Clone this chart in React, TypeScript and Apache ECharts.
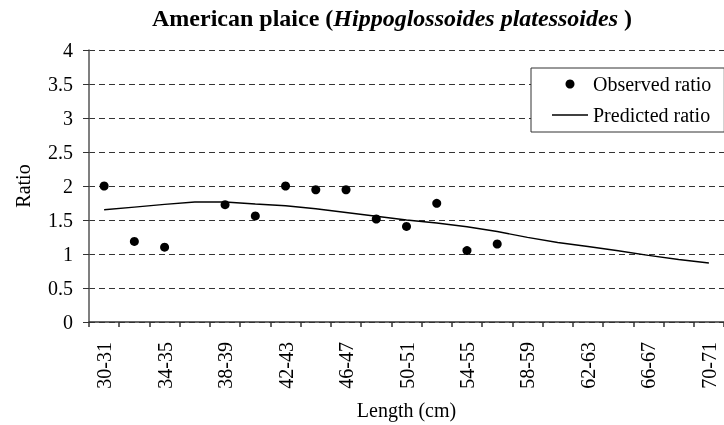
import React, { useEffect, useRef } from 'react';
import * as echarts from 'echarts';

const categories = [
  '30-31', '32-33', '34-35', '36-37', '38-39', '40-41', '42-43', '44-45', '46-47', '48-49',
  '50-51', '52-53', '54-55', '56-57', '58-59', '60-61', '62-63', '64-65', '66-67', '68-69', '70-71',
];
const observedRatio = [
  2.0, 1.185, 1.1, null, 1.725, 1.56, 2.0, 1.945, 1.945, 1.515,
  1.405, 1.745, 1.05, 1.147, null, null, null, null, null, null, null,
];
const predictedRatio = [
  1.65, 1.69, 1.73, 1.765, 1.765, 1.735, 1.71, 1.665, 1.61, 1.555,
  1.5, 1.455, 1.4, 1.33, 1.245, 1.17, 1.11, 1.047, 0.98, 0.92, 0.868,
];

const FONT = "'Liberation Serif', 'Times New Roman', serif";

export default function App() {
  const ref = useRef<HTMLDivElement>(null);
  useEffect(() => {
    if (!ref.current) return;
    const chart = echarts.init(ref.current, null, { renderer: 'svg' });
    chart.setOption({
      animation: false,
      textStyle: { fontFamily: FONT },
      graphic: [
        {
          type: 'text',
          x: 392,
          y: 6,
          style: {
            text: '{a|American plaice (}{b|Hippoglossoides platessoides}{a| )}',
            align: 'center',
            verticalAlign: 'top',
            fill: '#000',
            rich: {
              a: { fontFamily: FONT, fontSize: 24, fontWeight: 'bold', fill: '#000', color: '#000' },
              b: { fontFamily: FONT, fontSize: 24, fontWeight: 'bold', fontStyle: 'italic', fill: '#000', color: '#000' },
            },
          },
        },
      ],
      legend: {
        orient: 'vertical',
        left: 531,
        top: 68,
        padding: [6, 13, 7, 21],
        itemGap: 11,
        itemWidth: 36,
        itemHeight: 9,
        borderColor: '#333',
        borderWidth: 1,
        backgroundColor: '#fff',
        textStyle: { fontFamily: FONT, fontSize: 20, color: '#000', lineHeight: 20 },
        data: [
          { name: 'Observed ratio', icon: 'circle' },
          { name: 'Predicted ratio', icon: 'path://M0,0H36V1.4H0Z' },
        ],
      },
      grid: { left: 89, right: -8, top: 50, bottom: 103, containLabel: false },
      xAxis: {
        type: 'category',
        data: categories,
        boundaryGap: true,
        name: 'Length (cm)',
        nameLocation: 'middle',
        nameGap: 78,
        nameTextStyle: { fontFamily: FONT, fontSize: 20, color: '#000' },
        axisLine: { lineStyle: { color: '#333', width: 1.5 } },
        axisTick: { show: true, interval: 0, length: 5, inside: false, lineStyle: { color: '#333', width: 1.5 } },
        axisLabel: {
          interval: 1,
          rotate: 90,
          margin: 20,
          fontFamily: FONT,
          fontSize: 20,
          color: '#000',
        },
        splitLine: { show: false },
      },
      yAxis: {
        type: 'value',
        min: 0,
        max: 4,
        interval: 0.5,
        name: 'Ratio',
        nameLocation: 'middle',
        nameRotate: 90,
        nameGap: 56,
        nameTextStyle: { fontFamily: FONT, fontSize: 20, color: '#000' },
        axisLine: { show: true, lineStyle: { color: '#555', width: 1.5 } },
        axisTick: { show: true, length: 6, lineStyle: { color: '#333', width: 1 } },
        axisLabel: { margin: 16, fontFamily: FONT, fontSize: 20, color: '#000' },
        splitLine: { show: true, lineStyle: { color: '#333', type: [6, 4], width: 1 } },
      },
      series: [
        {
          name: 'Observed ratio',
          type: 'scatter',
          data: observedRatio,
          symbol: 'circle',
          symbolSize: 9,
          itemStyle: { color: '#000', opacity: 1 },
          z: 3,
        },
        {
          name: 'Predicted ratio',
          type: 'line',
          data: predictedRatio,
          symbol: 'none',
          showSymbol: false,
          lineStyle: { color: '#000', width: 1.4 },
          itemStyle: { color: '#000' },
          z: 2,
        },
      ],
    });
    return () => chart.dispose();
  }, []);
  return <div ref={ref} style={{ width: 724, height: 425, position: 'fixed', left: 0, top: 0 }} />;
}
